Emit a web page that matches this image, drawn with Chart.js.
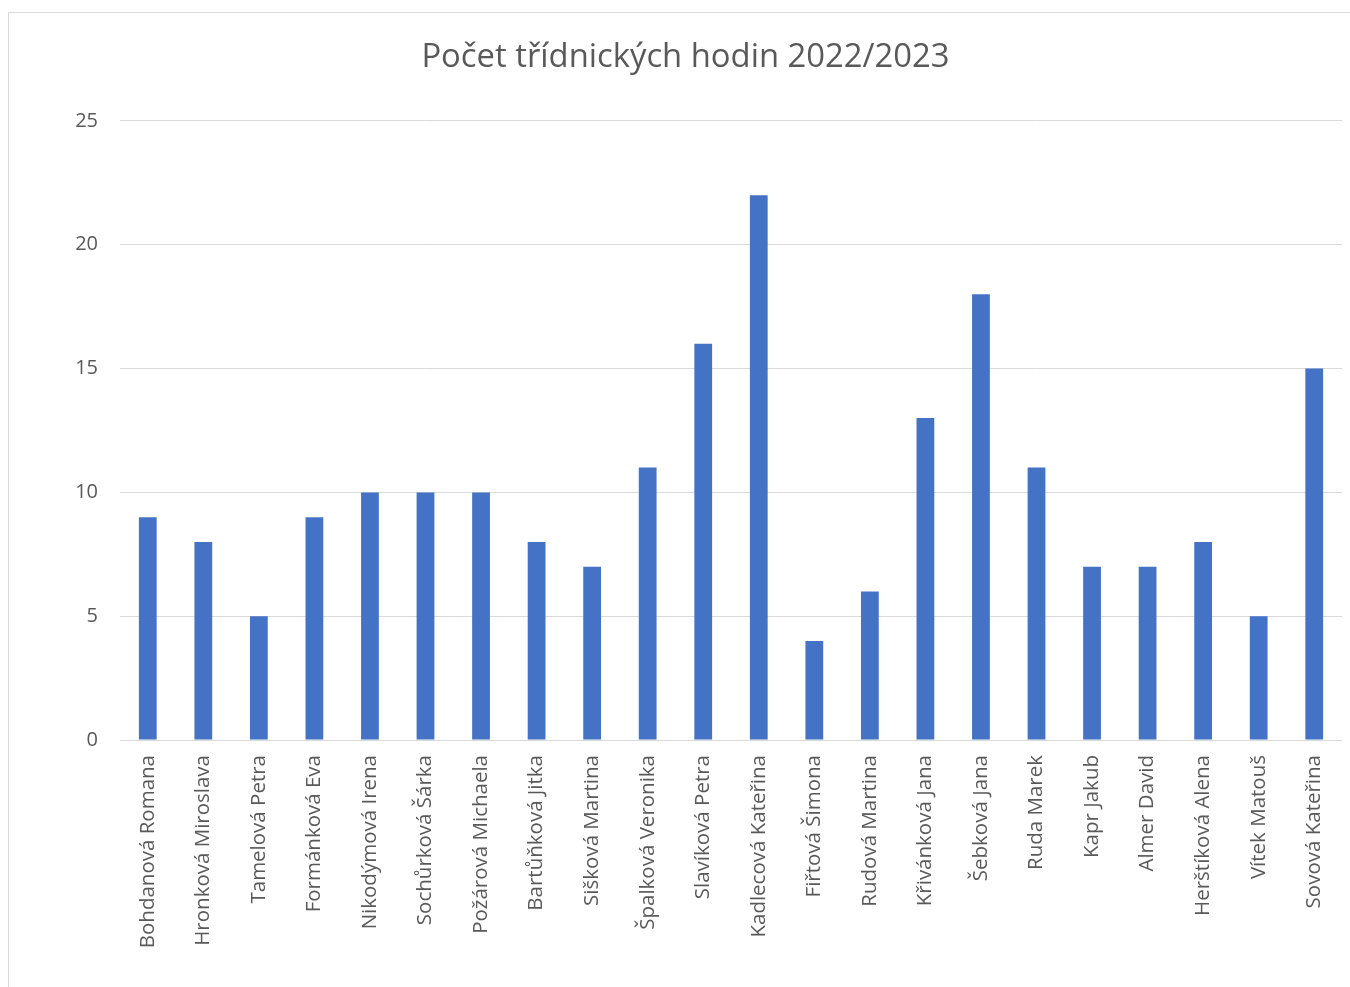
<!DOCTYPE html>
<html>
<head>
<meta charset="utf-8">
<script src="https://cdn.jsdelivr.net/npm/chart.js@4/dist/chart.umd.min.js"></script>
<style>
  html, body { margin: 0; padding: 0; background: #fff; overflow: hidden; }
  #frame {
    position: absolute; left: 8px; top: 12px; width: 1354px; height: 975px;
    border-left: 1px solid #d9d9d9; border-top: 1px solid #d9d9d9;
  }
  #wrap { position: absolute; left: 0; top: 0; width: 1353px; height: 974px; }
</style>
</head>
<body>
<div id="frame"><div id="wrap"><canvas id="myChart"></canvas></div></div>
<script>
const teachers = [
  'Bohdanová Romana', 'Hronková Miroslava', 'Tamelová Petra', 'Formánková Eva',
  'Nikodýmová Irena', 'Sochůrková Šárka', 'Požárová Michaela', 'Bartůňková Jitka',
  'Sišková Martina', 'Špalková Veronika', 'Slavíková Petra', 'Kadlecová Kateřina',
  'Fiřtová Šimona', 'Rudová Martina', 'Křivánková Jana', 'Šebková Jana',
  'Ruda Marek', 'Kapr Jakub', 'Almer David', 'Herštíková Alena',
  'Vítek Matouš', 'Sovová Kateřina'
];
const hours = [9, 8, 5, 9, 10, 10, 10, 8, 7, 11, 16, 22, 4, 6, 13, 18, 11, 7, 7, 8, 5, 15];
const yTicks = [0, 5, 10, 15, 20, 25];

const textGray = '#595959';
const gridGray = '#d9d9d9';

const data = {
  labels: teachers,
  datasets: [
    {
      label: 'Počet hodin',
      backgroundColor: '#4472c4',
      borderWidth: 0,
      barPercentage: 1,
      categoryPercentage: 0.32,
      data: hours,
    },
  ],
};

const myBarChart = new Chart('myChart', {
  type: 'bar',
  data,
  options: {
    responsive: true,
    maintainAspectRatio: false,
    animation: false,
    layout: { padding: 0 },
    plugins: {
      legend: { display: false },
      tooltip: { enabled: false },
      title: {
        display: true,
        text: 'Počet třídnických hodin 2022/2023',
        color: textGray,
        font: { family: 'Open Sans', size: 32.8, weight: 'normal' },
        padding: { top: 25, bottom: 43.6 },
      },
    },
    scales: {
      x: {
        grid: { display: false },
        border: { display: false },
        ticks: {
          color: textGray,
          font: { family: 'Open Sans', size: 20.5 },
          maxRotation: 90,
          minRotation: 90,
          padding: 7,
          autoSkip: false,
        },
        afterFit(scale) { scale.height = 247; },
      },
      y: {
        min: 0,
        max: 25,
        afterBuildTicks(scale) { scale.ticks = yTicks.map(v => ({ value: v })); },
        grid: { color: gridGray, lineWidth: 1, drawTicks: false },
        border: { display: false },
        ticks: {
          color: textGray,
          font: { family: 'Open Sans', size: 20 },
          padding: 22,
        },
        afterFit(scale) { scale.width = 111; },
      },
      // empty right margin so the title stays centred on the whole frame
      yRight: {
        position: 'right',
        min: 0,
        max: 25,
        grid: { display: false },
        border: { display: false },
        ticks: { display: false },
        afterFit(scale) { scale.width = 20; },
      },
    },
  },
});
</script>
</body>
</html>
